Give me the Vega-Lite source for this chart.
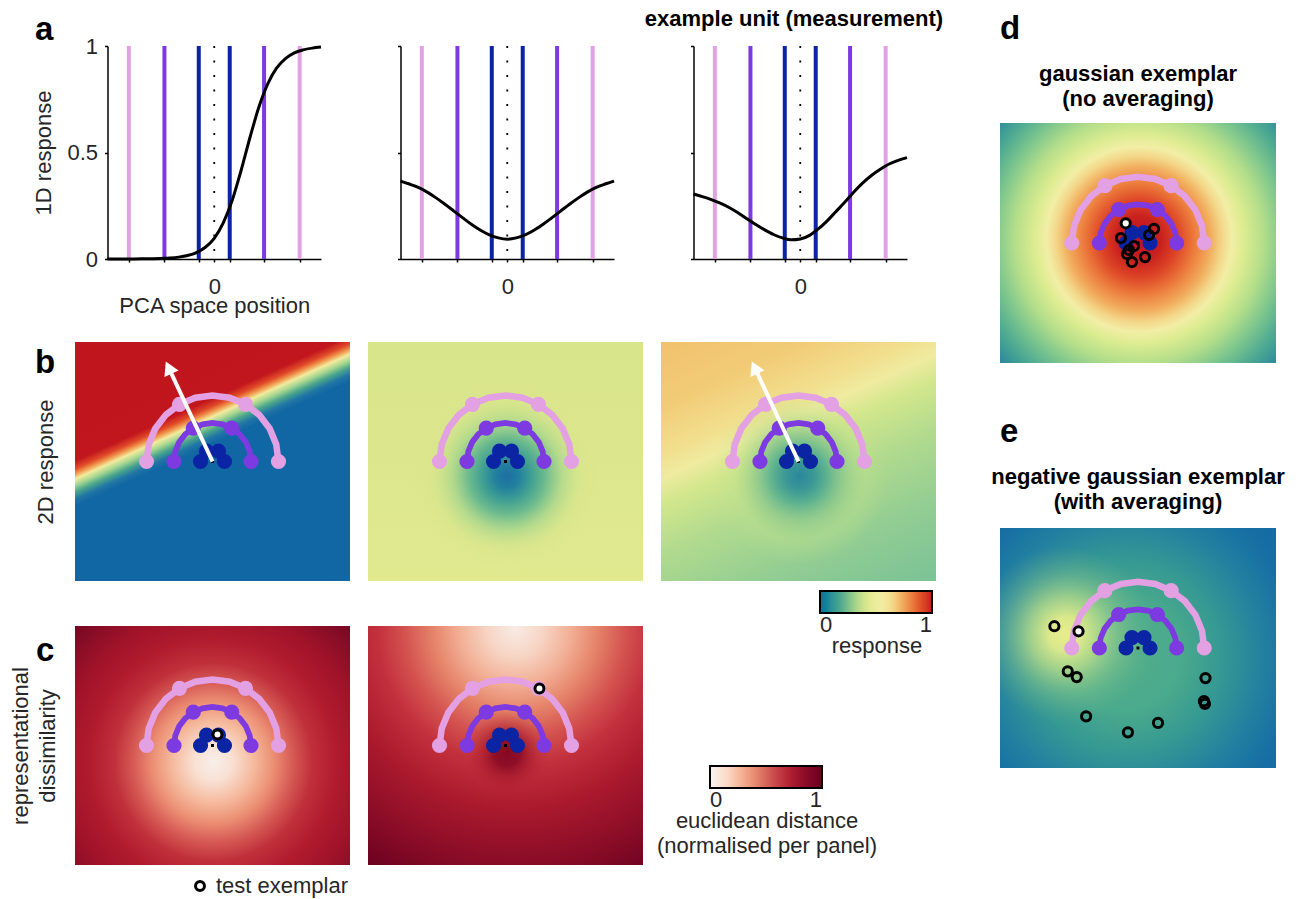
{
"$schema":"https://vega.github.io/schema/vega-lite/v6.json",
"padding":{"left":9,"top":8,"right":5,"bottom":5},
"config":{
 "view":{"stroke":null},
 "font":"Liberation Sans",
 "axis":{"labelFontSize":22,"titleFontSize":22,"labelColor":"#262626","titleColor":"#262626","titleFontWeight":"normal","domainColor":"#000000","tickColor":"#000000","grid":false},
 "title":{"fontSize":22,"fontWeight":"bold","color":"#000000","lineHeight":25},
 "legend":{"labelFontSize":22,"titleFontSize":22,"labelColor":"#262626","titleColor":"#262626","titleFontWeight":"normal"}
},
"datasets":{
 "arc":[
  {"ring":"pink","k":0,"x":0.48,"y":0},{"ring":"pink","k":1,"x":0.4636,"y":0.1242},{"ring":"pink","k":2,"x":0.4157,"y":0.24},{"ring":"pink","k":3,"x":0.3394,"y":0.3394},{"ring":"pink","k":4,"x":0.24,"y":0.4157},{"ring":"pink","k":5,"x":0.1242,"y":0.4636},{"ring":"pink","k":6,"x":0,"y":0.48},{"ring":"pink","k":7,"x":-0.1242,"y":0.4636},{"ring":"pink","k":8,"x":-0.24,"y":0.4157},{"ring":"pink","k":9,"x":-0.3394,"y":0.3394},{"ring":"pink","k":10,"x":-0.4157,"y":0.24},{"ring":"pink","k":11,"x":-0.4636,"y":0.1242},{"ring":"pink","k":12,"x":-0.48,"y":0},
  {"ring":"purple","k":0,"x":0.28,"y":0},{"ring":"purple","k":1,"x":0.2705,"y":0.0725},{"ring":"purple","k":2,"x":0.2425,"y":0.14},{"ring":"purple","k":3,"x":0.198,"y":0.198},{"ring":"purple","k":4,"x":0.14,"y":0.2425},{"ring":"purple","k":5,"x":0.0725,"y":0.2705},{"ring":"purple","k":6,"x":0,"y":0.28},{"ring":"purple","k":7,"x":-0.0725,"y":0.2705},{"ring":"purple","k":8,"x":-0.14,"y":0.2425},{"ring":"purple","k":9,"x":-0.198,"y":0.198},{"ring":"purple","k":10,"x":-0.2425,"y":0.14},{"ring":"purple","k":11,"x":-0.2705,"y":0.0725},{"ring":"purple","k":12,"x":-0.28,"y":0},
  {"ring":"blue","k":0,"x":0.087,"y":0},{"ring":"blue","k":1,"x":0.0753,"y":0.0435},{"ring":"blue","k":2,"x":0.0435,"y":0.0753},{"ring":"blue","k":3,"x":0,"y":0.087},{"ring":"blue","k":4,"x":-0.0435,"y":0.0753},{"ring":"blue","k":5,"x":-0.0753,"y":0.0435},{"ring":"blue","k":6,"x":-0.087,"y":0}
 ],
 "stim":[
  {"ring":"pink","x":0.48,"y":0},{"ring":"pink","x":0.24,"y":0.4157},{"ring":"pink","x":-0.24,"y":0.4157},{"ring":"pink","x":-0.48,"y":0},
  {"ring":"purple","x":0.28,"y":0},{"ring":"purple","x":0.14,"y":0.2425},{"ring":"purple","x":-0.14,"y":0.2425},{"ring":"purple","x":-0.28,"y":0},
  {"ring":"blue","x":0.087,"y":0},{"ring":"blue","x":0.0435,"y":0.0753},{"ring":"blue","x":-0.0435,"y":0.0753},{"ring":"blue","x":-0.087,"y":0}
 ],
 "lines1d":[{"ring":"pink","x":-0.48},{"ring":"purple","x":-0.28},{"ring":"blue","x":-0.087},{"ring":"blue","x":0.087},{"ring":"purple","x":0.28},{"ring":"pink","x":0.48}],
 "curveA1":[{"x":-0.6,"y":0.0001},{"x":-0.55,"y":0.0001},{"x":-0.5,"y":0.0002},{"x":-0.45,"y":0.0004},{"x":-0.4,"y":0.0007},{"x":-0.35,"y":0.0014},{"x":-0.3,"y":0.0025},{"x":-0.25,"y":0.0047},{"x":-0.2,"y":0.0088},{"x":-0.15,"y":0.0163},{"x":-0.1,"y":0.03},{"x":-0.05,"y":0.055},{"x":0,"y":0.097},{"x":0.05,"y":0.168},{"x":0.1,"y":0.273},{"x":0.15,"y":0.413},{"x":0.2,"y":0.568},{"x":0.25,"y":0.711},{"x":0.3,"y":0.821},{"x":0.35,"y":0.896},{"x":0.4,"y":0.941},{"x":0.45,"y":0.968},{"x":0.5,"y":0.982},{"x":0.55,"y":0.99},{"x":0.6,"y":0.995}],
 "curveA2":[{"x":-0.6,"y":0.366},{"x":-0.55,"y":0.352},{"x":-0.5,"y":0.336},{"x":-0.45,"y":0.314},{"x":-0.4,"y":0.287},{"x":-0.35,"y":0.257},{"x":-0.3,"y":0.225},{"x":-0.25,"y":0.193},{"x":-0.2,"y":0.162},{"x":-0.15,"y":0.135},{"x":-0.1,"y":0.113},{"x":-0.05,"y":0.099},{"x":0,"y":0.093},{"x":0.05,"y":0.099},{"x":0.1,"y":0.113},{"x":0.15,"y":0.135},{"x":0.2,"y":0.162},{"x":0.25,"y":0.193},{"x":0.3,"y":0.225},{"x":0.35,"y":0.257},{"x":0.4,"y":0.287},{"x":0.45,"y":0.314},{"x":0.5,"y":0.336},{"x":0.55,"y":0.352},{"x":0.6,"y":0.366}],
 "curveA3":[{"x":-0.6,"y":0.305},{"x":-0.55,"y":0.293},{"x":-0.5,"y":0.279},{"x":-0.45,"y":0.262},{"x":-0.4,"y":0.242},{"x":-0.35,"y":0.217},{"x":-0.3,"y":0.189},{"x":-0.25,"y":0.162},{"x":-0.2,"y":0.137},{"x":-0.15,"y":0.115},{"x":-0.1,"y":0.099},{"x":-0.05,"y":0.09},{"x":0,"y":0.094},{"x":0.05,"y":0.11},{"x":0.1,"y":0.14},{"x":0.15,"y":0.178},{"x":0.2,"y":0.222},{"x":0.25,"y":0.266},{"x":0.3,"y":0.313},{"x":0.35,"y":0.356},{"x":0.4,"y":0.392},{"x":0.45,"y":0.421},{"x":0.5,"y":0.446},{"x":0.55,"y":0.463},{"x":0.6,"y":0.476}],
 "extent":[{"x":-1,"x2":1,"y":-0.869,"y2":0.869}],
 "origin":[{"x":0,"y":0}],
 "arrow":[{"x":0,"y":0,"x2":-0.319,"y2":0.683}],
 "arrowhead":[{"x":-0.319,"y":0.683}],
 "legendv":[{"v":0},{"v":1}],
 "zero":[{"x":0}]
},
"hconcat":[
 {
  "concat":[
   {
    "width":275,"height":213,
    "title":{"text":"a","anchor":"start","frame":"group","fontSize":33,"dx":-40,"dy":12,"offset":0},
    "encoding":{"x":{"field":"x","type":"quantitative","scale":{"domain":[-0.6,0.6],"range":[32.5,246],"nice":false,"zero":false},"axis":{"values":[-0.48,-0.28,-0.087,0,0.087,0.28,0.48],"labelExpr":"datum.value === 0 ? '0' : ''","title":"PCA space position","tickSize":3,"tickWidth":1.5,"domainWidth":1.5,"labelPadding":14,"titlePadding":-2,"labelOverlap":false,"labelFlush":false,"grid":false}}},
    "layer":[
     {"data":{"name":"lines1d"},"mark":{"type":"rule","strokeWidth":4},"encoding":{"color":{"field":"ring","type":"nominal","scale":{"domain":["pink","purple","blue"],"range":["#e3a0e3","#7c3ae0","#0b24a3"]},"legend":null}}},
     {"data":{"name":"zero"},"mark":{"type":"rule","color":"#000000","strokeWidth":1.8,"strokeDash":[2,12.5]},"encoding":{}},
     {"data":{"name":"curveA1"},"mark":{"type":"line","color":"#000000","strokeWidth":3,"interpolate":"monotone"},"encoding":{"y":{"field":"y","type":"quantitative","scale":{"domain":[0,1],"nice":false},"axis":{"values":[0,0.5,1],"format":"~g","title":"1D response","offset":-32.5,"tickSize":3,"tickWidth":1.5,"domainWidth":1.5,"labelPadding":7,"titlePadding":11,"labelFlush":false,"grid":false}}}}
    ]
   },
   {
    "width":275,"height":213,
    "encoding":{"x":{"field":"x","type":"quantitative","scale":{"domain":[-0.6,0.6],"range":[32.5,246],"nice":false,"zero":false},"axis":{"values":[-0.48,-0.28,-0.087,0,0.087,0.28,0.48],"labelExpr":"datum.value === 0 ? '0' : ''","title":null,"tickSize":3,"tickWidth":1.5,"domainWidth":1.5,"labelPadding":14,"labelOverlap":false,"labelFlush":false,"grid":false}}},
    "layer":[
     {"data":{"name":"lines1d"},"mark":{"type":"rule","strokeWidth":4},"encoding":{"color":{"field":"ring","type":"nominal","scale":{"domain":["pink","purple","blue"],"range":["#e3a0e3","#7c3ae0","#0b24a3"]},"legend":null}}},
     {"data":{"name":"zero"},"mark":{"type":"rule","color":"#000000","strokeWidth":1.8,"strokeDash":[2,12.5]},"encoding":{}},
     {"data":{"name":"curveA2"},"mark":{"type":"line","color":"#000000","strokeWidth":3,"interpolate":"monotone"},"encoding":{"y":{"field":"y","type":"quantitative","scale":{"domain":[0,1],"nice":false},"axis":{"values":[0,0.5,1],"labels":false,"title":null,"offset":-32.5,"tickSize":3,"tickWidth":1.5,"domainWidth":1.5,"grid":false}}}}
    ]
   },
   {
    "width":275,"height":213,
    "title":{"text":"example unit (measurement)","anchor":"middle","frame":"group","dx":-4.5,"offset":13},
    "encoding":{"x":{"field":"x","type":"quantitative","scale":{"domain":[-0.6,0.6],"range":[32.5,246],"nice":false,"zero":false},"axis":{"values":[-0.48,-0.28,-0.087,0,0.087,0.28,0.48],"labelExpr":"datum.value === 0 ? '0' : ''","title":null,"tickSize":3,"tickWidth":1.5,"domainWidth":1.5,"labelPadding":14,"labelOverlap":false,"labelFlush":false,"grid":false}}},
    "layer":[
     {"data":{"name":"lines1d"},"mark":{"type":"rule","strokeWidth":4},"encoding":{"color":{"field":"ring","type":"nominal","scale":{"domain":["pink","purple","blue"],"range":["#e3a0e3","#7c3ae0","#0b24a3"]},"legend":null}}},
     {"data":{"name":"zero"},"mark":{"type":"rule","color":"#000000","strokeWidth":1.8,"strokeDash":[2,12.5]},"encoding":{}},
     {"data":{"name":"curveA3"},"mark":{"type":"line","color":"#000000","strokeWidth":3,"interpolate":"monotone"},"encoding":{"y":{"field":"y","type":"quantitative","scale":{"domain":[0,1],"nice":false},"axis":{"values":[0,0.5,1],"labels":false,"title":null,"offset":-32.5,"tickSize":3,"tickWidth":1.5,"domainWidth":1.5,"grid":false}}}}
    ]
   },
   {"width":1,"height":83,"data":{"values":[]},"mark":"point"},
   {"width":1,"height":83,"data":{"values":[]},"mark":"point"},
   {"width":1,"height":83,"data":{"values":[]},"mark":"point"},
   {
    "width":275,"height":239,
    "title":{"text":"b","anchor":"start","frame":"group","fontSize":33,"dx":-40,"dy":38,"offset":0},
    "encoding":{
     "x":{"field":"x","type":"quantitative","scale":{"domain":[-1,1],"nice":false,"zero":false},"axis":null},
     "y":{"field":"y","type":"quantitative","scale":{"domain":[-0.869,0.869],"nice":false,"zero":false},"axis":{"title":"2D response","domain":false,"ticks":false,"labels":false,"titlePadding":18,"grid":false}}
    },
    "layer":[
     {"data":{"name":"extent"},"mark":{"type":"rect","fill":{"gradient":"linear","x1":0.245,"y1":-0.176,"x2":0.894,"y2":1.065,"stops":[{"offset":0,"color":"#c0141e"},{"offset":0.345,"color":"#c2161e"},{"offset":0.366,"color":"#e04a28"},{"offset":0.38,"color":"#f19a4f"},{"offset":0.393,"color":"#f3eb9e"},{"offset":0.41,"color":"#a6d690"},{"offset":0.428,"color":"#4ba68b"},{"offset":0.447,"color":"#2076a4"},{"offset":0.465,"color":"#1167a4"},{"offset":1,"color":"#1167a4"}]}},"encoding":{"x2":{"field":"x2"},"y2":{"field":"y2"}}},
     {"data":{"name":"arc"},"mark":{"type":"line","strokeCap":"round"},"encoding":{"detail":{"field":"ring","type":"nominal"},"order":{"field":"k","type":"quantitative"},"color":{"field":"ring","type":"nominal","scale":{"domain":["pink","purple","blue"],"range":["#e3a0e3","#7c3ae0","#0b24a3"]},"legend":null},"size":{"field":"ring","type":"ordinal","scale":{"domain":["pink","purple","blue"],"range":[6.5,5,4]},"legend":null}}},
     {"data":{"name":"stim"},"mark":{"type":"point","filled":true,"size":230,"opacity":1},"encoding":{"color":{"field":"ring","type":"nominal","scale":{"domain":["pink","purple","blue"],"range":["#e3a0e3","#7c3ae0","#0b24a3"]},"legend":null}}},
     {"data":{"name":"origin"},"mark":{"type":"point","shape":"square","filled":true,"size":9,"color":"#000000","opacity":1},"encoding":{}},
     {"data":{"name":"arrow"},"mark":{"type":"rule","color":"#ffffff","strokeWidth":4},"encoding":{"x2":{"field":"x2"},"y2":{"field":"y2"}}},
     {"data":{"name":"arrowhead"},"mark":{"type":"point","shape":"triangle-up","filled":true,"color":"#ffffff","size":240,"angle":-25,"opacity":1},"encoding":{}}
    ]
   },
   {
    "width":275,"height":239,
    "encoding":{
     "x":{"field":"x","type":"quantitative","scale":{"domain":[-1,1],"nice":false,"zero":false},"axis":null},
     "y":{"field":"y","type":"quantitative","scale":{"domain":[-0.869,0.869],"nice":false,"zero":false},"axis":null}
    },
    "layer":[
     {"data":{"name":"extent"},"mark":{"type":"rect","fill":{"gradient":"linear","x1":0,"y1":0,"x2":0,"y2":1,"stops":[{"offset":0,"color":"#d8e58a"},{"offset":1,"color":"#e1e98f"}]}},"encoding":{"x2":{"field":"x2"},"y2":{"field":"y2"}}},
     {"data":{"name":"extent"},"mark":{"type":"rect","fill":{"gradient":"radial","x1":0.505,"y1":0.553,"r1":0,"x2":0.505,"y2":0.553,"r2":0.34,"stops":[{"offset":0,"color":"rgba(27,111,162,1)"},{"offset":0.13,"color":"rgba(35,128,159,1)"},{"offset":0.26,"color":"rgba(63,159,147,1)"},{"offset":0.41,"color":"rgba(109,187,142,1)"},{"offset":0.59,"color":"rgba(170,215,140,0.8)"},{"offset":0.79,"color":"rgba(210,228,140,0.4)"},{"offset":1,"color":"rgba(220,230,140,0)"}]}},"encoding":{"x2":{"field":"x2"},"y2":{"field":"y2"}}},
     {"data":{"name":"arc"},"mark":{"type":"line","strokeCap":"round"},"encoding":{"detail":{"field":"ring","type":"nominal"},"order":{"field":"k","type":"quantitative"},"color":{"field":"ring","type":"nominal","scale":{"domain":["pink","purple","blue"],"range":["#e3a0e3","#7c3ae0","#0b24a3"]},"legend":null},"size":{"field":"ring","type":"ordinal","scale":{"domain":["pink","purple","blue"],"range":[6.5,5,4]},"legend":null}}},
     {"data":{"name":"stim"},"mark":{"type":"point","filled":true,"size":230,"opacity":1},"encoding":{"color":{"field":"ring","type":"nominal","scale":{"domain":["pink","purple","blue"],"range":["#e3a0e3","#7c3ae0","#0b24a3"]},"legend":null}}},
     {"data":{"name":"origin"},"mark":{"type":"point","shape":"square","filled":true,"size":9,"color":"#000000","opacity":1},"encoding":{}}
    ]
   },
   {
    "width":275,"height":239,
    "encoding":{
     "x":{"field":"x","type":"quantitative","scale":{"domain":[-1,1],"nice":false,"zero":false},"axis":null},
     "y":{"field":"y","type":"quantitative","scale":{"domain":[-0.869,0.869],"nice":false,"zero":false},"axis":null}
    },
    "layer":[
     {"data":{"name":"extent"},"mark":{"type":"rect","fill":{"gradient":"linear","x1":0.245,"y1":-0.176,"x2":0.894,"y2":1.065,"stops":[{"offset":0,"color":"#f1c06c"},{"offset":0.2,"color":"#f2cb76"},{"offset":0.33,"color":"#f2df8e"},{"offset":0.393,"color":"#efeba0"},{"offset":0.46,"color":"#d3e78c"},{"offset":0.6,"color":"#b0da8e"},{"offset":0.8,"color":"#90cc93"},{"offset":1,"color":"#7ac296"}]}},"encoding":{"x2":{"field":"x2"},"y2":{"field":"y2"}}},
     {"data":{"name":"extent"},"mark":{"type":"rect","fill":{"gradient":"radial","x1":0.504,"y1":0.553,"r1":0,"x2":0.504,"y2":0.553,"r2":0.32,"stops":[{"offset":0,"color":"rgba(42,135,156,1)"},{"offset":0.16,"color":"rgba(58,152,150,1)"},{"offset":0.31,"color":"rgba(93,178,143,1)"},{"offset":0.5,"color":"rgba(140,200,140,0.75)"},{"offset":0.75,"color":"rgba(190,225,140,0.35)"},{"offset":1,"color":"rgba(200,225,140,0)"}]}},"encoding":{"x2":{"field":"x2"},"y2":{"field":"y2"}}},
     {"data":{"name":"arc"},"mark":{"type":"line","strokeCap":"round"},"encoding":{"detail":{"field":"ring","type":"nominal"},"order":{"field":"k","type":"quantitative"},"color":{"field":"ring","type":"nominal","scale":{"domain":["pink","purple","blue"],"range":["#e3a0e3","#7c3ae0","#0b24a3"]},"legend":null},"size":{"field":"ring","type":"ordinal","scale":{"domain":["pink","purple","blue"],"range":[6.5,5,4]},"legend":null}}},
     {"data":{"name":"stim"},"mark":{"type":"point","filled":true,"size":230,"opacity":1},"encoding":{"color":{"field":"ring","type":"nominal","scale":{"domain":["pink","purple","blue"],"range":["#e3a0e3","#7c3ae0","#0b24a3"]},"legend":null}}},
     {"data":{"name":"origin"},"mark":{"type":"point","shape":"square","filled":true,"size":9,"color":"#000000","opacity":1},"encoding":{}},
     {"data":{"name":"arrow"},"mark":{"type":"rule","color":"#ffffff","strokeWidth":4},"encoding":{"x2":{"field":"x2"},"y2":{"field":"y2"}}},
     {"data":{"name":"arrowhead"},"mark":{"type":"point","shape":"triangle-up","filled":true,"color":"#ffffff","size":240,"angle":-25,"opacity":1},"encoding":{}},
     {"data":{"name":"legendv"},"mark":{"type":"point","filled":true,"size":0,"opacity":1},"encoding":{"fill":{"field":"v","type":"quantitative","scale":{"domain":[0,1],"range":["#176f9e","#2b8e96","#4fa88d","#88c68c","#c4e08a","#e4ec92","#f1eea4","#f3dd8f","#f2b165","#ec7e40","#de4b26","#c81c1f"]},"legend":{"orient":"none","legendX":159,"legendY":249,"direction":"horizontal","gradientLength":112,"gradientThickness":22,"gradientStrokeColor":"#000000","gradientStrokeWidth":2,"values":[0,1],"format":"~g","title":"response","titleOrient":"bottom","titleAnchor":"middle","titlePadding":0,"titleLimit":400,"labelOffset":2,"padding":0}}}}
    ]
   },
   {"width":1,"height":45,"data":{"values":[]},"mark":"point"},
   {"width":1,"height":45,"data":{"values":[]},"mark":"point"},
   {"width":1,"height":45,"data":{"values":[]},"mark":"point"},
   {
    "width":275,"height":239,
    "title":{"text":"c","anchor":"start","frame":"group","fontSize":33,"dx":-39,"dy":42,"offset":0},
    "encoding":{
     "x":{"field":"x","type":"quantitative","scale":{"domain":[-1,1],"nice":false,"zero":false},"axis":null},
     "y":{"field":"y","type":"quantitative","scale":{"domain":[-0.869,0.869],"nice":false,"zero":false},"axis":{"title":["representational","dissimilarity"],"domain":false,"ticks":false,"labels":false,"titlePadding":15.5,"titleLineHeight":27,"grid":false}}
    },
    "layer":[
     {"data":{"name":"extent"},"mark":{"type":"rect","fill":{"gradient":"radial","x1":0.502,"y1":0.56,"r1":0,"x2":0.502,"y2":0.56,"r2":0.75,"stops":[{"offset":0,"color":"#f7efea"},{"offset":0.093,"color":"#f9e0d3"},{"offset":0.2,"color":"#f5b99c"},{"offset":0.293,"color":"#ec8f74"},{"offset":0.387,"color":"#d65a55"},{"offset":0.48,"color":"#c0303a"},{"offset":0.6,"color":"#b01b2e"},{"offset":0.733,"color":"#a01329"},{"offset":0.867,"color":"#850c26"},{"offset":1,"color":"#6c0221"}]}},"encoding":{"x2":{"field":"x2"},"y2":{"field":"y2"}}},
     {"data":{"name":"arc"},"mark":{"type":"line","strokeCap":"round"},"encoding":{"detail":{"field":"ring","type":"nominal"},"order":{"field":"k","type":"quantitative"},"color":{"field":"ring","type":"nominal","scale":{"domain":["pink","purple","blue"],"range":["#e3a0e3","#7c3ae0","#0b24a3"]},"legend":null},"size":{"field":"ring","type":"ordinal","scale":{"domain":["pink","purple","blue"],"range":[6.5,5,4]},"legend":null}}},
     {"data":{"name":"stim"},"mark":{"type":"point","filled":true,"size":230,"opacity":1},"encoding":{"color":{"field":"ring","type":"nominal","scale":{"domain":["pink","purple","blue"],"range":["#e3a0e3","#7c3ae0","#0b24a3"]},"legend":null}}},
     {"data":{"name":"origin"},"mark":{"type":"point","shape":"square","filled":true,"size":9,"color":"#000000","opacity":1},"encoding":{}},
     {"data":{"values":[{"x":0.036,"y":0.08,"kind":"test exemplar"}]},"mark":{"type":"point","filled":false,"fill":"#ffffff","strokeWidth":3,"size":80,"opacity":1},"encoding":{"stroke":{"field":"kind","type":"nominal","scale":{"domain":["test exemplar"],"range":["#000000"]},"legend":{"orient":"none","legendX":114,"legendY":249,"title":null,"symbolType":"circle","symbolSize":80,"symbolStrokeWidth":3,"symbolFillColor":"#ffffff","symbolOpacity":1,"labelOffset":5,"padding":0,"encode":{"symbols":{"fill":{"value":"#ffffff"},"stroke":{"value":"#000000"},"strokeWidth":{"value":3},"opacity":{"value":1}}}}}}}
    ]
   },
   {
    "width":275,"height":239,
    "encoding":{
     "x":{"field":"x","type":"quantitative","scale":{"domain":[-1,1],"nice":false,"zero":false},"axis":null},
     "y":{"field":"y","type":"quantitative","scale":{"domain":[-0.869,0.869],"nice":false,"zero":false},"axis":null}
    },
    "layer":[
     {"data":{"name":"extent"},"mark":{"type":"rect","fill":{"gradient":"radial","x1":0.535,"y1":0.076,"r1":0,"x2":0.535,"y2":0.076,"r2":1,"stops":[{"offset":0,"color":"#f8ebe4"},{"offset":0.1,"color":"#f7d5c5"},{"offset":0.2,"color":"#f2b096"},{"offset":0.3,"color":"#e58369"},{"offset":0.4,"color":"#d45350"},{"offset":0.5,"color":"#c3303d"},{"offset":0.65,"color":"#ab1a2d"},{"offset":0.85,"color":"#8a0c27"},{"offset":1,"color":"#6e0220"}]}},"encoding":{"x2":{"field":"x2"},"y2":{"field":"y2"}}},
     {"data":{"name":"extent"},"mark":{"type":"rect","fill":{"gradient":"radial","x1":0.505,"y1":0.527,"r1":0,"x2":0.505,"y2":0.527,"r2":0.16,"stops":[{"offset":0,"color":"rgba(128,4,33,0.95)"},{"offset":0.3,"color":"rgba(135,8,35,0.85)"},{"offset":0.62,"color":"rgba(165,22,42,0.45)"},{"offset":1,"color":"rgba(190,40,55,0)"}]}},"encoding":{"x2":{"field":"x2"},"y2":{"field":"y2"}}},
     {"data":{"name":"arc"},"mark":{"type":"line","strokeCap":"round"},"encoding":{"detail":{"field":"ring","type":"nominal"},"order":{"field":"k","type":"quantitative"},"color":{"field":"ring","type":"nominal","scale":{"domain":["pink","purple","blue"],"range":["#e3a0e3","#7c3ae0","#0b24a3"]},"legend":null},"size":{"field":"ring","type":"ordinal","scale":{"domain":["pink","purple","blue"],"range":[6.5,5,4]},"legend":null}}},
     {"data":{"name":"stim"},"mark":{"type":"point","filled":true,"size":230,"opacity":1},"encoding":{"color":{"field":"ring","type":"nominal","scale":{"domain":["pink","purple","blue"],"range":["#e3a0e3","#7c3ae0","#0b24a3"]},"legend":null}}},
     {"data":{"name":"origin"},"mark":{"type":"point","shape":"square","filled":true,"size":9,"color":"#000000","opacity":1},"encoding":{}},
     {"data":{"values":[{"x":0.247,"y":0.415}]},"mark":{"type":"point","filled":true,"fill":"#ffffff","stroke":"#000000","strokeWidth":3,"size":80,"opacity":1},"encoding":{}},
     {"data":{"name":"legendv"},"mark":{"type":"point","filled":true,"size":0,"opacity":1},"encoding":{"fill":{"field":"v","type":"quantitative","scale":{"domain":[0,1],"range":["#f7f4f2","#fbdccb","#f6b093","#e3806a","#c94a4d","#b21d30","#8a0b28","#690020"]},"legend":{"orient":"none","legendX":289,"legendY":140,"direction":"horizontal","gradientLength":112,"gradientThickness":22,"gradientStrokeColor":"#000000","gradientStrokeWidth":2,"values":[0,1],"format":"~g","title":["euclidean distance","(normalised per panel)"],"titleOrient":"bottom","titleAnchor":"middle","titleLineHeight":25,"titlePadding":0,"titleLimit":400,"labelOffset":2,"padding":0}}}}
    ]
   }
  ],
  "columns":3,
  "bounds":"flush",
  "align":"each",
  "spacing":{"row":0,"column":18},
  "resolve":{"scale":{"color":"independent","size":"independent","fill":"independent","shape":"independent","stroke":"independent"}}
 },
 {
  "vconcat":[
   {"width":1,"height":77,"data":{"values":[]},"mark":"point","title":{"text":"d","anchor":"start","frame":"group","fontSize":33,"offset":0}},
   {
    "width":276,"height":240,
    "title":{"text":["gaussian exemplar","(no averaging)"],"anchor":"middle","frame":"group","offset":12},
    "encoding":{
     "x":{"field":"x","type":"quantitative","scale":{"domain":[-1,1],"nice":false,"zero":false},"axis":null},
     "y":{"field":"y","type":"quantitative","scale":{"domain":[-0.8696,0.8696],"nice":false,"zero":false},"axis":null}
    },
    "layer":[
     {"data":{"name":"extent"},"mark":{"type":"rect","fill":{"gradient":"radial","x1":0.504,"y1":0.486,"r1":0,"x2":0.504,"y2":0.486,"r2":0.8,"stops":[{"offset":0,"color":"#bf1320"},{"offset":0.1,"color":"#c9201f"},{"offset":0.175,"color":"#dd4526"},{"offset":0.25,"color":"#ec7a3c"},{"offset":0.325,"color":"#f2ad5e"},{"offset":0.375,"color":"#f3d688"},{"offset":0.419,"color":"#f2eea6"},{"offset":0.475,"color":"#dcec90"},{"offset":0.5625,"color":"#b4de8a"},{"offset":0.65,"color":"#7fc78d"},{"offset":0.75,"color":"#4ba892"},{"offset":0.875,"color":"#1f7ca0"},{"offset":1,"color":"#1a6ea3"}]}},"encoding":{"x2":{"field":"x2"},"y2":{"field":"y2"}}},
     {"data":{"name":"arc"},"mark":{"type":"line","strokeCap":"round"},"encoding":{"detail":{"field":"ring","type":"nominal"},"order":{"field":"k","type":"quantitative"},"color":{"field":"ring","type":"nominal","scale":{"domain":["pink","purple","blue"],"range":["#e3a0e3","#7c3ae0","#0b24a3"]},"legend":null},"size":{"field":"ring","type":"ordinal","scale":{"domain":["pink","purple","blue"],"range":[6.5,5,4]},"legend":null}}},
     {"data":{"name":"stim"},"mark":{"type":"point","filled":true,"size":230,"opacity":1},"encoding":{"color":{"field":"ring","type":"nominal","scale":{"domain":["pink","purple","blue"],"range":["#e3a0e3","#7c3ae0","#0b24a3"]},"legend":null}}},
     {"data":{"name":"origin"},"mark":{"type":"point","shape":"square","filled":true,"size":9,"color":"#000000","opacity":1},"encoding":{}},
     {"data":{"values":[{"x":0.116,"y":0.102},{"x":0.08,"y":0.058},{"x":-0.124,"y":0.036},{"x":-0.029,"y":-0.022},{"x":-0.065,"y":-0.051},{"x":-0.08,"y":-0.08},{"x":0.051,"y":-0.102},{"x":-0.044,"y":-0.138}]},"mark":{"type":"point","filled":false,"stroke":"#000000","strokeWidth":3,"size":85,"opacity":1},"encoding":{}},
     {"data":{"values":[{"x":-0.089,"y":0.143}]},"mark":{"type":"point","filled":true,"fill":"#ffffff","stroke":"#000000","strokeWidth":3,"size":85,"opacity":1},"encoding":{}}
    ]
   },
   {"width":1,"height":86,"data":{"values":[]},"mark":"point"},
   {"width":1,"height":79,"data":{"values":[]},"mark":"point","title":{"text":"e","anchor":"start","frame":"group","fontSize":33,"offset":0}},
   {
    "width":276,"height":240,
    "title":{"text":["negative gaussian exemplar","(with averaging)"],"anchor":"middle","frame":"group","offset":14},
    "encoding":{
     "x":{"field":"x","type":"quantitative","scale":{"domain":[-1,1],"nice":false,"zero":false},"axis":null},
     "y":{"field":"y","type":"quantitative","scale":{"domain":[-0.8696,0.8696],"nice":false,"zero":false},"axis":null}
    },
    "layer":[
     {"data":{"name":"extent"},"mark":{"type":"rect","fill":{"gradient":"radial","x1":0.453,"y1":0.529,"r1":0,"x2":0.453,"y2":0.529,"r2":0.8,"stops":[{"offset":0,"color":"#52ae8b"},{"offset":0.25,"color":"#4aaa8c"},{"offset":0.44,"color":"#359893"},{"offset":0.625,"color":"#2380a0"},{"offset":0.775,"color":"#176fa4"},{"offset":1,"color":"#1366a3"}]}},"encoding":{"x2":{"field":"x2"},"y2":{"field":"y2"}}},
     {"data":{"name":"extent"},"mark":{"type":"rect","fill":{"gradient":"radial","x1":0.236,"y1":0.449,"r1":0,"x2":0.236,"y2":0.449,"r2":0.32,"stops":[{"offset":0,"color":"rgba(232,237,140,1)"},{"offset":0.19,"color":"rgba(226,236,139,0.95)"},{"offset":0.41,"color":"rgba(200,228,138,0.7)"},{"offset":0.69,"color":"rgba(150,205,140,0.35)"},{"offset":1,"color":"rgba(110,185,140,0)"}]}},"encoding":{"x2":{"field":"x2"},"y2":{"field":"y2"}}},
     {"data":{"name":"arc"},"mark":{"type":"line","strokeCap":"round"},"encoding":{"detail":{"field":"ring","type":"nominal"},"order":{"field":"k","type":"quantitative"},"color":{"field":"ring","type":"nominal","scale":{"domain":["pink","purple","blue"],"range":["#e3a0e3","#7c3ae0","#0b24a3"]},"legend":null},"size":{"field":"ring","type":"ordinal","scale":{"domain":["pink","purple","blue"],"range":[6.5,5,4]},"legend":null}}},
     {"data":{"name":"stim"},"mark":{"type":"point","filled":true,"size":230,"opacity":1},"encoding":{"color":{"field":"ring","type":"nominal","scale":{"domain":["pink","purple","blue"],"range":["#e3a0e3","#7c3ae0","#0b24a3"]},"legend":null}}},
     {"data":{"name":"origin"},"mark":{"type":"point","shape":"square","filled":true,"size":9,"color":"#000000","opacity":1},"encoding":{}},
     {"data":{"values":[{"x":-0.606,"y":0.158},{"x":-0.509,"y":-0.169},{"x":-0.444,"y":-0.211},{"x":-0.376,"y":-0.495},{"x":-0.073,"y":-0.611},{"x":0.145,"y":-0.543},{"x":0.489,"y":-0.218},{"x":0.478,"y":-0.385},{"x":0.485,"y":-0.405}]},"mark":{"type":"point","filled":false,"stroke":"#000000","strokeWidth":3,"size":85,"opacity":1},"encoding":{}},
     {"data":{"values":[{"x":-0.431,"y":0.121}]},"mark":{"type":"point","filled":true,"fill":"#ffffff","stroke":"#000000","strokeWidth":3,"size":85,"opacity":1},"encoding":{}}
    ]
   }
  ],
  "bounds":"flush",
  "spacing":0,
  "resolve":{"scale":{"color":"independent","size":"independent","shape":"independent"}}
 }
],
"bounds":"flush",
"spacing":925,
"resolve":{"scale":{"color":"independent","size":"independent","fill":"independent","shape":"independent","stroke":"independent"}}
}
